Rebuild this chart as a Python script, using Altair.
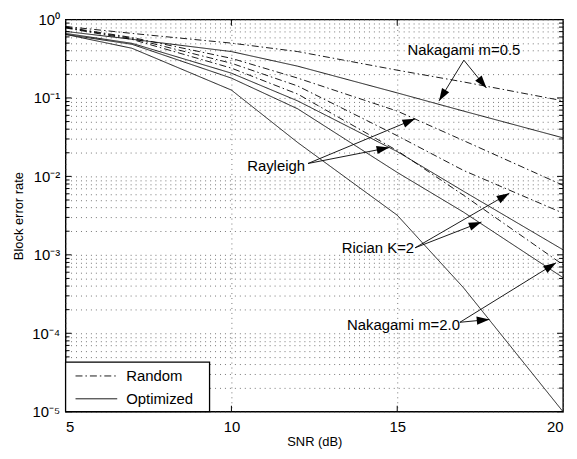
import math
import altair as alt
import pandas as pd

# ---------------- data ----------------
snr = [5, 7, 10, 12, 15, 17, 20]
nak05_rand = [0.815, 0.665, 0.50, 0.39, 0.226, 0.16, 0.092]
nak05_opt = [0.705, 0.56, 0.39, 0.254, 0.116, 0.068, 0.031]
ray_rand = [0.80, 0.59, 0.32, 0.179, 0.068, 0.0286, 0.0077]
ray_opt = [0.665, 0.497, 0.207, 0.0916, 0.0207, 0.00646, 0.00116]
ric_rand = [0.79, 0.575, 0.277, 0.142, 0.033, 0.0119, 0.0034]
ric_opt = [0.646, 0.483, 0.179, 0.0726, 0.01124, 0.0035, 0.000512]
nak2_rand = [0.78, 0.558, 0.24, 0.112, 0.0213, 0.00575, 0.000747]
nak2_opt = [0.646, 0.43, 0.126, 0.027, 0.0032, 0.00038, 0.00001]

x_ticks = [5, 10, 15, 20]
y_major = [1, 0.1, 0.01, 0.001, 0.0001, 0.00001]
y_minor = [k * 10.0 ** e for e in range(-5, 0) for k in range(2, 10)]

# annotation texts (data coordinates)
ann_text = ["Nakagami m=0.5", "Rayleigh", "Rician K=2", "Nakagami m=2.0"]
ann_tx = [17.01, 12.22, 15.51, 16.89]
ann_ty = [0.405, 0.0134, 0.00123, 0.000126]
ann_align = ["center", "right", "right", "right"]
# arrows: origin -> tip (data coordinates)
arr_x0 = [17.01, 17.01, 12.31, 12.31, 15.54, 15.54, 16.89, 16.89]
arr_y0 = [0.303, 0.303, 0.0146, 0.0146, 0.00123, 0.00123, 0.000138, 0.000138]
arr_x1 = [16.26, 17.69, 15.54, 14.76, 18.38, 17.54, 19.79, 17.78]
arr_y1 = [0.0916, 0.134, 0.0542, 0.0233, 0.0061, 0.00262, 0.000792, 0.00015]

# ---------------- build tables ----------------
curves = [
    ("Nakagami m=0.5 random", "Random", nak05_rand),
    ("Nakagami m=0.5 optimized", "Optimized", nak05_opt),
    ("Rayleigh random", "Random", ray_rand),
    ("Rayleigh optimized", "Optimized", ray_opt),
    ("Rician random", "Random", ric_rand),
    ("Rician optimized", "Optimized", ric_opt),
    ("Nakagami m=2 random", "Random", nak2_rand),
    ("Nakagami m=2 optimized", "Optimized", nak2_opt),
]
rows = []
for name, typ, vals in curves:
    for s, v in zip(snr, vals):
        rows.append({"snr": s, "bler": v, "curve": name, "type": typ})
df = pd.DataFrame(rows)

W, H = 501, 395
PX_DB = W / 15.0
PX_DEC = H / 5.0

angles = []
for a, b, c, d in zip(arr_x0, arr_y0, arr_x1, arr_y1):
    dx = (c - a) * PX_DB
    dy = -(math.log10(d) - math.log10(b)) * PX_DEC
    angles.append(math.degrees(math.atan2(dx, -dy)) % 360)
arr = pd.DataFrame({"x0": arr_x0, "y0": arr_y0, "x1": arr_x1, "y1": arr_y1, "ang": angles})
ann = pd.DataFrame({"t": ann_text, "x": ann_tx, "y": ann_ty, "al": ann_align})

FONT = "Liberation Sans"
x_scale = alt.Scale(domain=[5, 20], nice=False, zero=False)
y_scale = alt.Scale(type="log", domain=[1e-5, 1], nice=False)

grid_vals = sorted(y_major + y_minor)
sup = "['⁰','⁻¹','⁻²','⁻³','⁻⁴','⁻⁵']"
y_label_expr = (
    "abs(log(datum.value)/LN10 - round(log(datum.value)/LN10)) < 0.001 ? "
    "'10' + " + sup + "[-round(log(datum.value)/LN10)] : ''"
)

X_TITLE = "SNR (dB)"
Y_TITLE = "Block error rate"
x_axis = alt.Axis(values=x_ticks, grid=True, gridDash=[1, 4], gridColor="#555",
                  gridWidth=0.8, ticks=False, domain=False, labelFontSize=15,
                  labelPadding=8, titleFontSize=13, titleFontWeight="normal",
                  titlePadding=1, labelFont=FONT, titleFont=FONT,
                  labelColor="black", titleColor="black", format="d")
y_axis = alt.Axis(values=grid_vals, grid=True, gridDash=[1, 4], gridColor="#555",
                  gridWidth=0.8, ticks=False, domain=False, labelExpr=y_label_expr,
                  labelOverlap=False, labelFontSize=15, labelPadding=6,
                  titleFontSize=13, titleFontWeight="normal", titlePadding=6,
                  labelFont=FONT, titleFont=FONT, labelColor="black",
                  titleColor="black")


def X(field):
    return alt.X(field, scale=x_scale, axis=x_axis, title=X_TITLE)


def Y(field):
    return alt.Y(field, scale=y_scale, axis=y_axis, title=Y_TITLE)


lines = alt.Chart(df).mark_line(color="black", strokeWidth=0.9, clip=True).encode(
    x=X("snr:Q"),
    y=Y("bler:Q"),
    detail="curve:N",
    strokeDash=alt.StrokeDash("type:N", scale=alt.Scale(domain=["Random", "Optimized"],
                              range=[[7, 3, 1.5, 3], [1, 0]]), legend=None),
)


# inward tick marks
def ytick(vals, x_a, x_b):
    return alt.Chart(pd.DataFrame({"v": vals})).mark_rule(color="black", strokeWidth=1).encode(
        y=Y("v:Q"), x=alt.value(x_a), x2=alt.value(x_b))


def xtick(vals, y_a, y_b):
    return alt.Chart(pd.DataFrame({"v": vals})).mark_rule(color="black", strokeWidth=1).encode(
        x=X("v:Q"), y=alt.value(y_a), y2=alt.value(y_b))


ticks = [
    ytick(y_major, 0, 6), ytick(y_minor, 0, 4),
    ytick(y_major, W, W - 6), ytick(y_minor, W, W - 4),
    xtick(x_ticks[1:3], H, H - 6), xtick(x_ticks[1:3], 0, 6),
]

shafts = alt.Chart(arr).mark_rule(color="black", strokeWidth=0.9).encode(
    x=X("x0:Q"), y=Y("y0:Q"), x2="x1:Q", y2="y1:Q")
heads = alt.Chart(arr).mark_point(shape="M0,0L-0.33,1L0.33,1Z", filled=True, fill="black",
                                   opacity=1, size=650, strokeWidth=0).encode(
    x=X("x1:Q"), y=Y("y1:Q"), angle=alt.Angle("ang:Q", scale=None))

texts = []
for al in ["center", "right"]:
    texts.append(alt.Chart(ann[ann.al == al]).mark_text(
        align=al, baseline="middle", fontSize=15, font=FONT, color="black").encode(
        x=X("x:Q"), y=Y("y:Q"), text="t:N"))

# legend box (manual)
leg_df = pd.DataFrame({"label": ["Random", "Optimized"]})
leg_box = alt.Chart(leg_df.head(1)).mark_rect(fill="white", stroke="black", strokeWidth=1.3).encode(
    x=alt.value(0), x2=alt.value(145), y=alt.value(345), y2=alt.value(395))
leg_l1 = alt.Chart(leg_df.head(1)).mark_rule(color="black", strokeWidth=0.9,
                                            strokeDash=[7, 3, 1.5, 3]).encode(
    x=alt.value(10), x2=alt.value(52), y=alt.value(359))
leg_l2 = alt.Chart(leg_df.head(1)).mark_rule(color="black", strokeWidth=0.9).encode(
    x=alt.value(10), x2=alt.value(52), y=alt.value(382))
leg_t1 = alt.Chart(leg_df.iloc[[0]]).mark_text(align="left", baseline="middle", fontSize=15,
                                               font=FONT, color="black").encode(
    x=alt.value(61), y=alt.value(359), text="label:N")
leg_t2 = alt.Chart(leg_df.iloc[[1]]).mark_text(align="left", baseline="middle", fontSize=15,
                                               font=FONT, color="black").encode(
    x=alt.value(61), y=alt.value(382), text="label:N")

chart = alt.layer(lines, *ticks, shafts, heads, *texts, leg_box, leg_l1, leg_l2, leg_t1, leg_t2
).properties(
    width=W, height=H, autosize="none",
    padding={"left": 58, "top": 10, "right": 6, "bottom": 40},
    background="white",
).configure_view(stroke="black", strokeWidth=1.4)

chart.save("out.html", embed_options={"renderer": "svg", "actions": False})
